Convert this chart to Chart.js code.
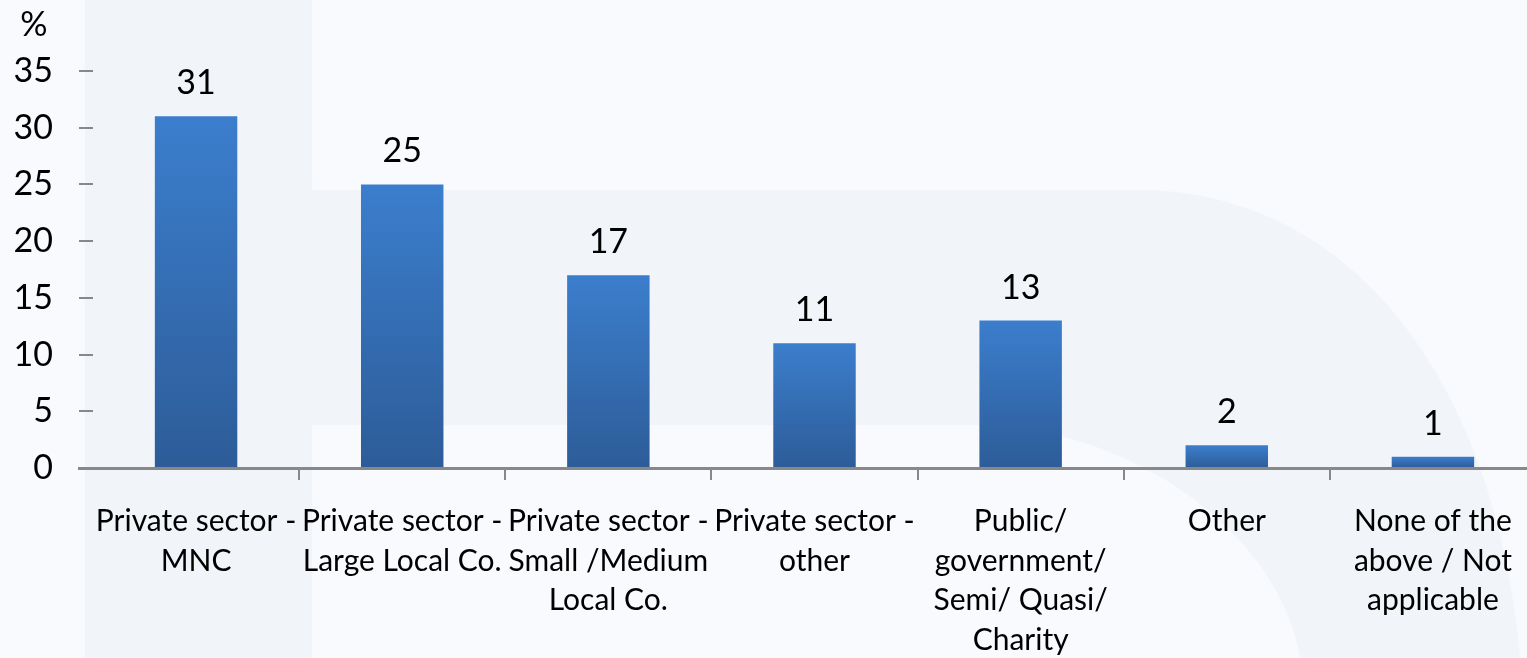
<!DOCTYPE html>
<html lang="en">
<head>
  <meta charset="UTF-8" />
  <title>Sector</title>
  <script src="https://cdn.jsdelivr.net/npm/chart.js"></script>
  <style>
body {
  margin: 0;
  background: #f7f9fc;
  overflow: hidden;
}
canvas {
  display: block;
}
  </style>
</head>
<body>
<canvas id="grafico" width="1536" height="658"></canvas>

<script>
const categorias = [
  ['Private sector -', 'MNC'],
  ['Private sector -', 'Large Local Co.'],
  ['Private sector -', 'Small /Medium', 'Local Co.'],
  ['Private sector -', 'other'],
  ['Public/', 'government/', 'Semi/ Quasi/', 'Charity'],
  ['Other'],
  ['None of the', 'above / Not', 'applicable']
];
const valores = [31, 25, 17, 11, 13, 2, 1];
const ticksY = [0, 5, 10, 15, 20, 25, 30, 35];

const FUENTE = 'Lato, "Open Sans", sans-serif';

// fondo con la marca de agua tenue
const fondo = {
  id: 'fondo',
  beforeDraw(chart) {
    const { ctx, width, height } = chart;
    ctx.save();
    ctx.fillStyle = '#f8fafd';
    ctx.fillRect(0, 0, width, height);
    ctx.fillStyle = '#f1f5fa';
    ctx.fillRect(85, 0, 227, height);
    ctx.beginPath();
    ctx.moveTo(312, 190);
    ctx.lineTo(1150, 190);
    ctx.bezierCurveTo(1380, 200, 1500, 420, 1520, height);
    ctx.lineTo(312, height);
    ctx.closePath();
    ctx.fill();
    ctx.fillStyle = '#f8fafd';
    ctx.beginPath();
    ctx.moveTo(312, 425);
    ctx.lineTo(1000, 425);
    ctx.bezierCurveTo(1150, 440, 1280, 540, 1300, height);
    ctx.lineTo(312, height);
    ctx.closePath();
    ctx.fill();
    ctx.restore();
  }
};

// etiquetas encima de las barras, el "%" y el tramo del eje bajo las marcas de y
const etiquetas = {
  id: 'etiquetas',
  afterDatasetsDraw(chart) {
    const { ctx, chartArea } = chart;
    const meta = chart.getDatasetMeta(0);
    ctx.save();
    ctx.fillStyle = '#000';
    ctx.font = '34px ' + FUENTE;
    ctx.textAlign = 'center';
    ctx.textBaseline = 'bottom';
    meta.data.forEach((bar, i) => {
      ctx.fillText(String(valores[i]), bar.x, bar.y - 16);
    });
    ctx.fillText('%', 34, 42);

    ctx.strokeStyle = '#888888';
    ctx.lineWidth = 3;
    ctx.beginPath();
    ctx.moveTo(78, chartArea.bottom + 0.5);
    ctx.lineTo(chartArea.left, chartArea.bottom + 0.5);
    ctx.stroke();
    ctx.restore();
  }
};

const ctx = document.getElementById('grafico').getContext('2d');

new Chart(ctx, {
  type: 'bar',
  data: {
    labels: categorias,
    datasets: [{
      data: valores,
      barPercentage: 0.4,
      categoryPercentage: 1,
      backgroundColor: (c) => {
        const chart = c.chart;
        const y = chart.scales.y;
        if (!chart.chartArea || !y || c.parsed === undefined) return '#3570b8';
        const top = y.getPixelForValue(c.parsed.y);
        const base = y.getPixelForValue(0);
        if (!isFinite(top) || top === base) return '#3570b8';
        const g = chart.ctx.createLinearGradient(0, top, 0, base);
        g.addColorStop(0, '#3b7ecd');
        g.addColorStop(1, '#2d5c98');
        return g;
      },
      borderWidth: 0
    }]
  },
  options: {
    responsive: false,
    animation: false,
    maintainAspectRatio: false,
    layout: { padding: { top: 71, right: 0, bottom: 0, left: 0 } },
    plugins: {
      legend: { display: false },
      tooltip: { enabled: false }
    },
    scales: {
      x: {
        afterFit: (s) => { s.height = 190; },
        border: { display: true, color: '#888888', width: 3 },
        grid: {
          offset: true,
          drawOnChartArea: false,
          tickLength: 12,
          lineWidth: 2,
          color: (c) => c.index === 0 ? 'rgba(0,0,0,0)' : '#888888'
        },
        ticks: {
          color: '#000',
          font: { family: FUENTE, size: 30, lineHeight: 1.317 },
          padding: 22,
          maxRotation: 0,
          autoSkip: false
        }
      },
      y: {
        min: 0,
        max: 35,
        afterBuildTicks: (s) => { s.ticks = ticksY.map(v => ({ value: v })); },
        afterFit: (s) => { s.width = 93; },
        border: { display: false },
        grid: {
          drawOnChartArea: false,
          tickLength: 14,
          lineWidth: 2,
          color: '#888888'
        },
        ticks: {
          color: '#000',
          font: { family: FUENTE, size: 34 },
          padding: 26
        }
      }
    }
  },
  plugins: [fondo, etiquetas]
});
</script>
</body>
</html>
